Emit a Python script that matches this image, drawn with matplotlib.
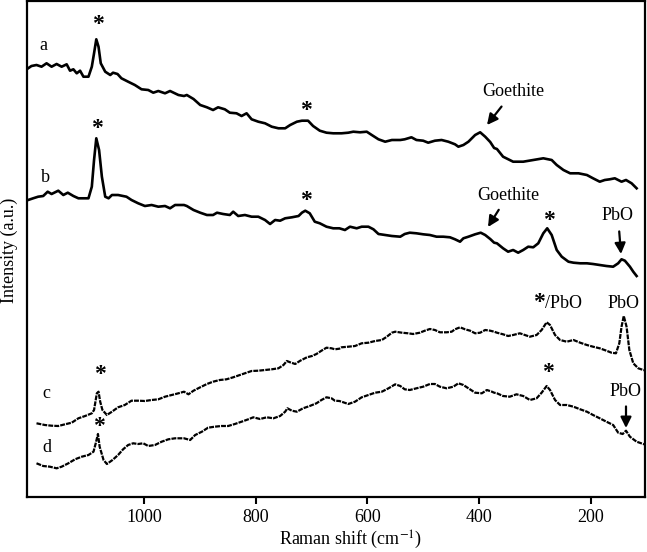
import matplotlib
matplotlib.use("Agg")
import matplotlib.pyplot as plt

# ---- data (Raman shift in cm-1, intensity in a.u.) ----
a_shift = [1207, 1201, 1192, 1183, 1174, 1165, 1156, 1147, 1138, 1132, 1126, 1120, 1114, 1108, 1099,
           1093, 1089, 1085, 1081, 1077, 1069, 1060, 1055, 1047, 1040, 1028, 1016, 1004, 992, 983,
           974, 962, 953, 938, 928, 923, 911, 899, 887, 876, 867, 855, 846, 834, 825, 816, 807,
           795, 783, 771, 759, 747, 738, 726, 717, 706, 697, 685, 673, 661, 650, 646, 634, 625,
           613, 601, 592, 580, 568, 556, 541, 533, 521, 512, 500, 491, 479, 467, 455, 443, 437,
           428, 419, 407, 398, 389, 380, 373, 368, 357, 339, 321, 303, 285, 270, 261, 249, 237,
           222, 207, 196, 184, 175, 166, 157, 145, 137, 127, 118]
a_int = [428.7, 431, 432, 430.3, 433.7, 430.3, 433, 430.3, 432.7, 426.3, 427.7, 423.7, 426.3, 420.3, 420.3,
         430.3, 443.7, 457.7, 450.3, 433.7, 425.3, 422, 424.3, 423, 418.7, 415.3, 412, 407.7, 407, 404.3,
         406, 403.7, 406, 402, 401, 402, 398, 392, 389.7, 387, 389.7, 387.7, 384.3, 383.7, 381, 383.7, 377.7,
         375.3, 373.7, 370.3, 368.7, 368.7, 372, 375.3, 376.3, 376.3, 371, 366.3, 364.3, 363.7, 363.7, 363.7, 364.3, 365.3,
         364.7, 365.3, 362, 357.7, 355.3, 357, 357, 357.7, 359.7, 357, 356.3, 354.3, 356.3, 357, 355.3, 352.7, 350.3,
         352, 355.3, 362, 364.7, 360.3, 355, 349, 348, 340.3, 335.3, 335.3, 337, 338.7, 337, 332, 327, 323.7,
         323.7, 322, 318.7, 315.3, 317, 317.7, 318.7, 315.3, 317, 313.7, 308.7]

b_shift = [1207, 1198, 1189, 1180, 1172, 1165, 1153, 1144, 1136, 1126, 1117, 1099, 1093, 1089, 1085,
           1080, 1075, 1069, 1063, 1057, 1046, 1031, 1022, 1010, 998, 986, 974, 962, 953, 944, 928,
           923, 911, 899, 887, 876, 869, 858, 846, 840, 831, 819, 807, 795, 783, 774, 765, 756, 747,
           735, 723, 717, 711, 703, 694, 685, 673, 661, 650, 640, 631, 619, 610, 598, 589, 580, 568,
           556, 541, 533, 524, 512, 500, 488, 476, 464, 452, 443, 434, 428, 419, 407, 397, 389, 380,
           373, 368, 357, 348, 339, 330, 321, 312, 303, 294, 285, 278, 270, 261, 252, 240, 231, 219,
           207, 196, 184, 172, 160, 151, 145, 139, 130, 124, 118]
b_int = [297, 298.7, 300.3, 301, 305.3, 303, 306.3, 302, 304.3, 301, 298.7, 298.7, 310.3, 337, 358.7,
         347, 320.3, 300.3, 298.7, 302, 302, 300.3, 297, 293.7, 291, 292, 290.3, 291, 288.7, 292, 292,
         291, 287, 284.3, 282, 282, 284.3, 283, 282, 285.3, 281, 282, 280.3, 280.3, 277, 273, 277, 276.3, 278.7,
         279.7, 281, 284.3, 286.3, 283.7, 275.3, 273.7, 270.3, 268.7, 268.7, 267, 270.3, 268.7, 270.3, 270.3, 267.7, 263, 262,
         261, 260.3, 263, 264.3, 263.7, 262.7, 262, 260.3, 260.3, 259.7, 257.7, 255.3, 258.7, 260.3, 262.7, 264.3, 262, 258,
         254.3, 253.7, 248.7, 245.3, 247, 244.3, 247, 250.3, 249.7, 253.7, 263.7, 268.7, 262, 247, 240.3, 235.3, 234.3, 233.7,
         233.7, 233, 232, 231, 230.3, 233.7, 237.7, 236.3, 230.3, 225.3, 221]

c_shift = [1192, 1177, 1165, 1153, 1141, 1129, 1117, 1105, 1093, 1089, 1084, 1081, 1078, 1074, 1066,
           1057, 1046, 1034, 1022, 1010, 998, 986, 974, 962, 950, 938, 928, 920, 911, 899, 887,
           876, 864, 852, 840, 828, 816, 807, 795, 783, 771, 759, 750, 744, 738, 729, 720, 708,
           699, 691, 682, 673, 664, 658, 650, 646, 634, 622, 610, 598, 586, 574, 565, 556, 550,
           538, 527, 518, 506, 497, 488, 479, 470, 458, 449, 443, 434, 425, 416, 407, 398, 389,
           380, 373, 368, 357, 348, 339, 327, 318, 309, 297, 288, 279, 273, 264, 255, 243, 231,
           219, 207, 196, 184, 172, 163, 155, 149, 145, 141, 136, 131, 124, 115, 106, 100]
c_int = [73.7, 72, 71.3, 71, 72.7, 74.3, 78.7, 81, 83.7, 87, 103.7, 105.3, 95.3, 87, 82,
         85.3, 89.7, 92, 96.3, 96.3, 96, 97, 97.7, 100.3, 102, 103.7, 105.3, 102.7, 106.3, 109.7, 113,
         115.3, 117, 117.7, 119.7, 122, 124.3, 126, 126.3, 127, 127.7, 128.7, 132, 136, 134.7, 133, 136.3, 139.7,
         141, 143, 146.3, 149.3, 148.7, 147.7, 148.3, 149.7, 150.3, 151, 153.7, 154.3, 156, 157, 160.3, 164.3, 165.3,
         164.3, 163.7, 163, 164.3, 166.3, 168, 167, 164.7, 164.7, 165.3, 167.7, 169.7, 167.7, 166.3, 163.7, 164.3, 167,
         166.3, 165.3, 164.3, 162.7, 161, 162, 163.7, 162, 160.3, 162, 167, 174.7, 172, 162, 157, 155.3, 157,
         154.3, 152, 150.3, 148.7, 146.3, 144.3, 143.7, 153.7, 170.3, 181, 170.3, 147, 133.7, 128.7, 127, 126.3]

d_shift = [1192, 1180, 1168, 1156, 1147, 1135, 1123, 1111, 1099, 1090, 1086, 1082, 1079, 1072, 1066,
           1056, 1046, 1037, 1028, 1019, 1010, 1001, 992, 980, 968, 956, 944, 928, 917, 908, 896,
           885, 873, 861, 849, 837, 825, 813, 804, 792, 780, 768, 756, 747, 743, 735, 726, 715,
           703, 691, 682, 673, 664, 658, 650, 646, 634, 622, 610, 598, 586, 574, 562, 550, 541,
           533, 524, 512, 500, 488, 479, 470, 458, 446, 437, 428, 419, 407, 395, 386, 377, 373,
           368, 357, 345, 333, 321, 309, 297, 288, 279, 273, 264, 255, 243, 231, 219, 207, 196,
           184, 172, 160, 151, 143, 137, 130, 118, 106, 100]
d_int = [33.7, 31, 30.3, 28.7, 30.3, 33.7, 37.7, 40.3, 42, 45.3, 53.7, 63, 50.3, 37, 33,
         37, 42, 47.7, 52, 53.7, 53, 53.7, 51, 52, 55.3, 57.7, 58.7, 58.7, 57, 62, 65.3,
         69.3, 70.3, 71, 71, 73, 75.3, 77.7, 79.7, 78, 79.7, 78.7, 81, 85.3, 88.7, 86.3, 85.3, 88.7,
         91, 93.7, 97, 99.7, 98.7, 96.3, 96, 95.3, 93, 95.3, 99.7, 102, 104.3, 105.3, 108.7, 112.7, 111,
         107.7, 107, 108.7, 110.3, 113, 113, 110.3, 108.7, 110.3, 113.7, 112, 108.7, 104.3, 103.7, 107, 105.3, 104.3,
         103.7, 101, 100.3, 102.7, 101, 97, 98.7, 104.3, 111, 107, 97, 92, 92, 90.3, 87.7, 85.3, 82,
         78.7, 75.3, 72, 64.3, 63, 66.3, 60.3, 55.3, 53, 52]

xticks = [1000, 800, 600, 400, 200]

plt.rcParams['font.family'] = ['Liberation Serif', 'DejaVu Serif']
plt.rcParams['mathtext.fontset'] = 'stix'

fig = plt.figure(figsize=(6.47, 5.52), dpi=100)
ax = fig.add_axes([27/647, 1 - 497/552, 618/647, 496/552])

ax.plot(a_shift, a_int, color='black', lw=1.9, solid_joinstyle='round')
ax.plot(b_shift, b_int, color='black', lw=1.9, solid_joinstyle='round')
ax.plot(c_shift, c_int, color='black', lw=1.6, linestyle=(0, (2.2, 0.5)))
ax.plot(d_shift, d_int, color='black', lw=1.6, linestyle=(0, (2.2, 0.5)))

ax.set_xlim(1209, 103)
ax.set_ylim(0, 496)
ax.set_xticks(xticks)
ax.set_yticks([])
ax.tick_params(axis='x', direction='out', length=5, width=1.5, labelsize=13, pad=4)
for s in ax.spines.values():
    s.set_linewidth(1.6)

fig.text(351/647, 1 - 540/552, 'Raman shift (cm$^{-1}$)', ha='center', va='center', fontsize=13)
fig.text(9/647, 1 - 250/552, 'Intensity (a.u.)', ha='center', va='center', rotation=90, fontsize=13)

def px(x, y):
    """pixel position in the axes -> data coords"""
    xd = 1209 - (x - 27) / 618 * (1209 - 103)
    yd = (497 - y)
    return xd, yd

fs = 13
# curve letters
for lab, (x, y) in zip('abcd', [(43, 46), (45, 178), (46, 393), (47, 448)]):
    ax.text(*px(x, y), lab, fontsize=fs, ha='center', va='center')

# stars
for (x, y) in [(98, 25), (306, 110), (97, 128), (306, 201), (549, 220), (100, 375), (99, 426), (548, 372)]:
    ax.text(*px(x, y), '*', fontsize=17, ha='center', va='center', fontweight='bold')

# */PbO and PbO labels on c
ax.text(*px(539, 302), '*', fontsize=17, ha='center', va='center', fontweight='bold')
ax.text(*px(545, 303), '/PbO', fontsize=fs, ha='left', va='center')
ax.text(*px(624, 303), 'PbO', fontsize=fs, ha='center', va='center')

arrow = dict(arrowstyle='-|>', color='black', lw=1.6, mutation_scale=16, shrinkA=3, shrinkB=0)
# Goethite annotations
ax.annotate('Goethite', xy=px(487, 125), xytext=px(513, 92), fontsize=fs, ha='center', va='center',
            arrowprops=arrow)
ax.annotate('Goethite', xy=px(488, 227), xytext=px(508, 195), fontsize=fs, ha='center', va='center',
            arrowprops=arrow)
# PbO arrows
ax.annotate('PbO', xy=px(621, 254), xytext=px(618, 216), fontsize=fs, ha='center', va='center',
            arrowprops=arrow)
ax.annotate('PbO', xy=px(626, 428), xytext=px(626, 391), fontsize=fs, ha='center', va='center',
            arrowprops=arrow)

fig.savefig('out.png', dpi=100)
